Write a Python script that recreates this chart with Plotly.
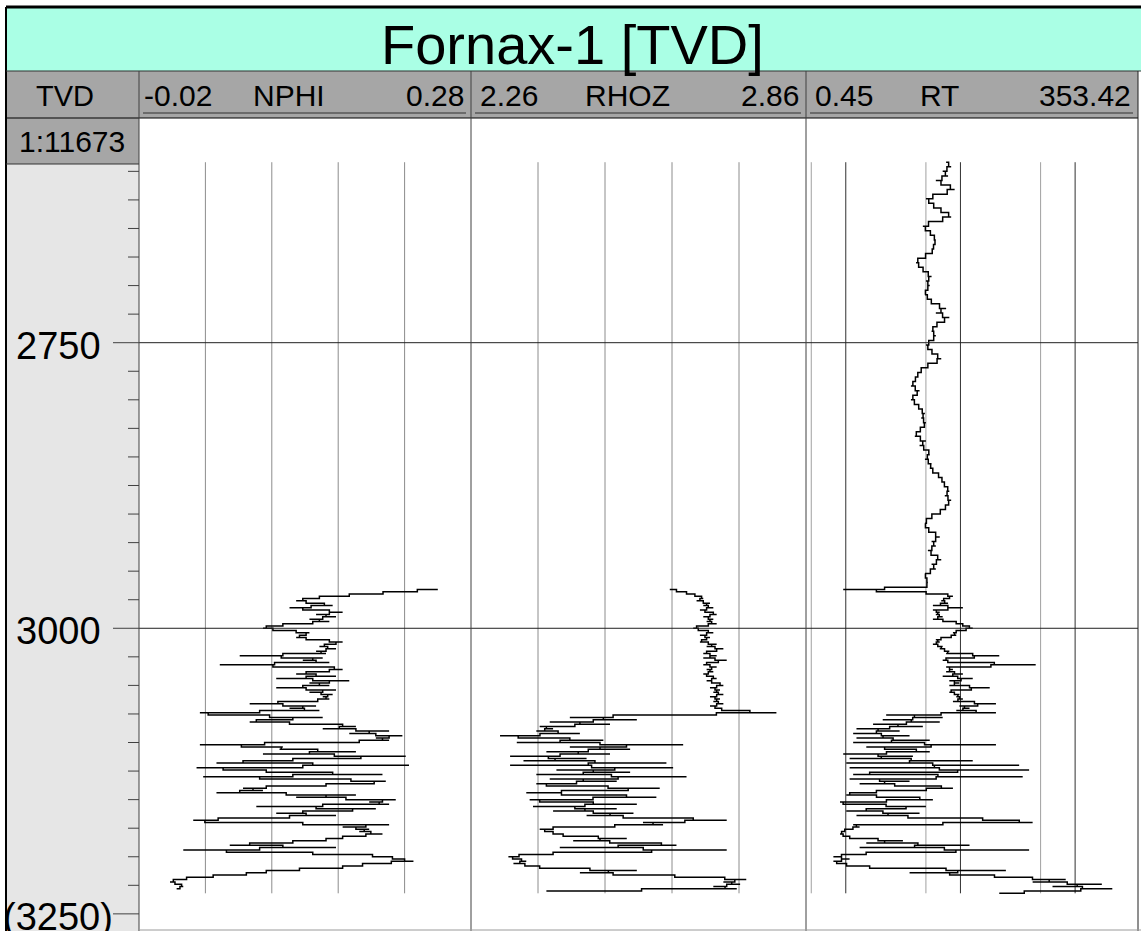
import numpy as np
import plotly.graph_objects as go

# ---------------- data ----------------
well_title = "Fornax-1 [TVD]"
scale_text = "1:11673"
depth_labels = ["2750", "3000", "(3250)"]
depth_label_values = [2750, 3000, 3250]

# track names and their scale ends
track_names = ["NPHI", "RHOZ", "RT"]
track_left_text = ["-0.02", "2.26", "0.45"]
track_right_text = ["0.28", "2.86", "353.42"]
nphi_range = [-0.02, 0.28]
rhoz_range = [2.26, 2.86]
rt_range = [0.45, 353.42]

# sample depths (m, TVD)
rt_upper_depth = np.arange(2592, 2965, 4)        # 4 m sampling in upper RT section
lower_depth = np.arange(2966, 3233, 2)           # 2 m sampling below 2966 m

nphi = [
    0.250, 0.213, 0.188, 0.152, 0.134, 0.122, 0.140, 0.155, 0.116, 0.140,
    0.164, 0.140, 0.158, 0.134, 0.152, 0.122, 0.098, 0.092, 0.110, 0.134,
    0.128, 0.122, 0.140, 0.164, 0.152, 0.143, 0.158, 0.140, 0.149, 0.071,
    0.146, 0.128, 0.152, 0.053, 0.149, 0.164, 0.140, 0.122, 0.158, 0.104,
    0.170, 0.134, 0.152, 0.104, 0.158, 0.134, 0.155, 0.146, 0.152, 0.131,
    0.080, 0.140, 0.116, 0.143, 0.035, 0.050, 0.146, 0.092, 0.080, 0.152,
    0.176, 0.146, 0.206, 0.170, 0.218, 0.194, 0.206, 0.152, 0.035, 0.110,
    0.107, 0.176, 0.092, 0.221, 0.140, 0.098, 0.050, 0.224, 0.032, 0.080,
    0.110, 0.200, 0.038, 0.140, 0.203, 0.182, 0.116, 0.074, 0.092, 0.050,
    0.176, 0.122, 0.212, 0.188, 0.206, 0.086, 0.194, 0.152, 0.104, 0.158,
    0.074, 0.029, 0.050, 0.206, 0.164, 0.188, 0.179, 0.200, 0.170, 0.158,
    0.140, 0.098, 0.062, 0.158, 0.020, 0.098, 0.176, 0.206, 0.212, 0.228,
    0.188, 0.176, 0.152, 0.098, 0.092, 0.062, 0.032, 0.014, 0.008, 0.017,
    0.020, 0.014,
]

rhoz = [
    2.616, 2.640, 2.652, 2.670, 2.676, 2.664, 2.688, 2.676, 2.694, 2.670,
    2.688, 2.700, 2.676, 2.694, 2.682, 2.700, 2.670, 2.658, 2.676, 2.694,
    2.670, 2.688, 2.676, 2.670, 2.700, 2.682, 2.712, 2.688, 2.676, 2.700,
    2.676, 2.718, 2.688, 2.676, 2.700, 2.682, 2.694, 2.676, 2.688, 2.700,
    2.682, 2.700, 2.712, 2.688, 2.706, 2.694, 2.712, 2.688, 2.706, 2.694,
    2.712, 2.688, 2.706, 2.712, 2.807, 2.592, 2.437, 2.557, 2.401, 2.509,
    2.383, 2.407, 2.377, 2.455, 2.312, 2.377, 2.497, 2.342, 2.640, 2.437,
    2.545, 2.395, 2.509, 2.330, 2.467, 2.354, 2.610, 2.330, 2.622, 2.413,
    2.545, 2.377, 2.646, 2.401, 2.521, 2.377, 2.413, 2.598, 2.485, 2.359,
    2.485, 2.592, 2.365, 2.401, 2.557, 2.371, 2.521, 2.407, 2.551, 2.467,
    2.598, 2.718, 2.568, 2.604, 2.431, 2.383, 2.401, 2.413, 2.437, 2.539,
    2.443, 2.574, 2.628, 2.419, 2.718, 2.449, 2.365, 2.327, 2.342, 2.359,
    2.336, 2.377, 2.389, 2.557, 2.455, 2.574, 2.676, 2.753, 2.712, 2.742,
    2.694, 2.736, 2.395,
]

rt_upper = [
    7.5, 8.3, 7.0, 7.8, 6.1, 7.5, 8.9, 6.6, 5.0, 5.6,
    6.1, 7.5, 8.3, 5.9, 4.7, 5.2, 5.75, 6.1, 5.9, 5.75,
    5.6, 4.4, 4.1, 4.55, 4.9, 5.6, 5.0, 5.4, 5.0, 4.9,
    5.4, 5.75, 7.5, 6.1, 8.0, 6.6, 5.9, 5.6, 6.1, 5.6,
    5.0, 5.4, 5.9, 6.8, 5.75, 4.7, 4.4, 4.1, 4.0, 3.7,
    4.4, 4.0, 3.7, 4.25, 4.4, 4.9, 4.55, 5.0, 4.7, 4.25,
    4.0, 5.0, 4.4, 5.2, 5.4, 4.9, 5.6, 5.4, 6.1, 6.8,
    7.0, 7.5, 8.0, 7.3, 8.3, 7.5, 7.3, 6.1, 5.2, 4.9,
    5.0, 5.6, 6.6, 5.6, 6.1, 5.2, 5.9, 6.8, 5.6, 6.1,
    4.9, 5.0, 5.2, 5.0,
]

rt_lower = [
    0.95, 3.6, 7.0, 8.6, 7.5, 6.8, 7.8, 5.75, 10.5, 5.75,
    6.6, 6.1, 7.0, 5.75, 8.6, 9.8, 11.2, 12.8, 9.8, 8.6,
    9.2, 7.5, 6.1, 6.6, 5.75, 7.0, 6.6, 8.0, 7.5, 21.8,
    8.0, 7.0, 8.6, 45.3, 7.5, 8.6, 7.5, 10.5, 7.0, 12.8,
    8.0, 9.8, 8.0, 18.0, 8.6, 8.0, 9.8, 9.2, 10.5, 8.6,
    20.4, 9.8, 12.0, 9.2, 20.4, 2.25, 7.0, 2.1, 6.6, 1.73,
    4.7, 1.24, 2.95, 1.16, 3.6, 1.24, 5.4, 1.16, 20.4, 1.51,
    3.15, 5.4, 0.95, 3.85, 1.08, 12.8, 1.01, 32.5, 1.08, 39.7,
    2.25, 1.16, 34.9, 1.08, 3.6, 1.32, 5.4, 8.6, 2.95, 1.16,
    1.01, 3.4, 5.75, 0.89, 1.01, 5.0, 2.25, 1.01, 4.4, 1.24,
    9.8, 24.9, 42.6, 1.16, 1.32, 1.01, 0.95, 0.89, 1.01, 1.16,
    3.15, 1.51, 12.0, 1.32, 39.7, 2.1, 1.08, 0.78, 1.08, 0.78,
    0.89, 1.16, 2.25, 24.9, 3.6, 18.0, 21.8, 82.8, 42.6, 171,
    63.5, 211, 59.5, 21.8,
]

nphi_grid = [0.04, 0.10, 0.16, 0.22]
rhoz_grid = [2.38, 2.50, 2.62, 2.74]
rt_grid_major = [1, 10, 100]
rt_grid_minor = [0.5, 5, 50]

# ---------------- layout helpers ----------------
W, H = 1141, 931
FONT = "Liberation Sans, Arial, sans-serif"


def px(x):
    return x / W


def py(y):
    return 1 - y / H


# track edges (pixels)
T_LEFT = [139, 471, 806]
T_RIGHT = [471, 806, 1138]
DEPTH_L, DEPTH_R = 6, 139
HEAD_TOP, HEAD_BOT, SCALE_BOT = 71, 118, 164

nphi_depth = lower_depth[: len(nphi)]
rhoz_depth = lower_depth[: len(rhoz)]
rt_depth = np.concatenate([rt_upper_depth, lower_depth[: len(rt_lower)]])
rt_vals = list(rt_upper) + list(rt_lower)

grid_top = float(min(rt_depth))
grid_bot = float(max(rt_depth))

fig = go.Figure()
line_style = dict(color="black", width=1.5, shape="hvh")
fig.add_trace(go.Scatter(x=nphi, y=nphi_depth, xaxis="x", yaxis="y", mode="lines",
                         line=line_style, name="NPHI", hoverinfo="skip"))
fig.add_trace(go.Scatter(x=rhoz, y=rhoz_depth, xaxis="x2", yaxis="y", mode="lines",
                         line=line_style, name="RHOZ", hoverinfo="skip"))
fig.add_trace(go.Scatter(x=rt_vals, y=rt_depth, xaxis="x3", yaxis="y", mode="lines",
                         line=line_style, name="RT", hoverinfo="skip"))

shapes = []


def rect(x0, y0, x1, y1, fill, layer="below"):
    shapes.append(dict(type="rect", xref="paper", yref="paper",
                       x0=px(x0), x1=px(x1), y0=py(y0), y1=py(y1),
                       fillcolor=fill, line=dict(width=0), layer=layer))


def pline(x0, y0, x1, y1, color, width=1, layer="above"):
    shapes.append(dict(type="line", xref="paper", yref="paper",
                       x0=px(x0), x1=px(x1), y0=py(y0), y1=py(y1),
                       line=dict(color=color, width=width), layer=layer))


# backgrounds
rect(DEPTH_L, 7, W, HEAD_TOP, "#AAFFE5")
rect(DEPTH_L, HEAD_TOP, T_RIGHT[2], HEAD_BOT, "#A6A6A6")
rect(DEPTH_L, HEAD_BOT, DEPTH_R, SCALE_BOT, "#A6A6A6")
rect(DEPTH_L, SCALE_BOT, DEPTH_R, H, "#E6E6E6")

# vertical gridlines in tracks (shapes on a log axis take data values here)
for v in nphi_grid:
    shapes.append(dict(type="line", xref="x", yref="y", x0=v, x1=v, y0=grid_top, y1=grid_bot,
                       line=dict(color="#8C8C8C", width=1), layer="below"))
for v in rhoz_grid:
    shapes.append(dict(type="line", xref="x2", yref="y", x0=v, x1=v, y0=grid_top, y1=grid_bot,
                       line=dict(color="#8C8C8C", width=1), layer="below"))
for v in rt_grid_minor:
    shapes.append(dict(type="line", xref="x3", yref="y", x0=v, x1=v, y0=grid_top, y1=grid_bot,
                       line=dict(color="#A0A0A0", width=1), layer="below"))
for v in rt_grid_major:
    shapes.append(dict(type="line", xref="x3", yref="y", x0=v, x1=v, y0=grid_top, y1=grid_bot,
                       line=dict(color="#303030", width=1), layer="below"))

# depth ticks
for d in range(2600, 3251, 25):
    major = d % 250 == 0
    shapes.append(dict(type="line", xref="paper", yref="y",
                       x0=px(113 if major else 128), x1=px(DEPTH_R), y0=d, y1=d,
                       line=dict(color="#404040", width=1), layer="above"))
# horizontal reference lines across tracks
for d in depth_label_values[:2]:
    shapes.append(dict(type="line", xref="paper", yref="y",
                       x0=px(DEPTH_R), x1=px(T_RIGHT[2]), y0=d, y1=d,
                       line=dict(color="#202020", width=1), layer="above"))

# frame lines
pline(DEPTH_L, 7, W, 7, "black", 3)
pline(DEPTH_L, 7, DEPTH_L, H, "black", 2)
pline(DEPTH_L, HEAD_TOP, W, HEAD_TOP, "#333333", 1)
pline(DEPTH_L, HEAD_BOT, T_RIGHT[2], HEAD_BOT, "black", 1)
pline(DEPTH_L, SCALE_BOT, DEPTH_R, SCALE_BOT, "#333333", 1)
for xs in [DEPTH_R, T_LEFT[1], T_LEFT[2]]:
    pline(xs, HEAD_TOP, xs, H, "#404040", 1)
pline(T_RIGHT[2], HEAD_TOP, T_RIGHT[2], H, "#202020", 1)
pline(DEPTH_R, H - 1, W, H - 1, "#9A9A9A", 1)
# header underlines
for l, r in zip(T_LEFT, T_RIGHT):
    pline(l + 4, 113, r - 5, 113, "#303030", 1)

annotations = []


def text(x, y, s, size, xanchor="center", yref="paper", yshift=0):
    annotations.append(dict(x=px(x), y=(py(y) if yref == "paper" else y), xref="paper", yref=yref,
                            text=s, showarrow=False, xanchor=xanchor, yanchor="middle",
                            yshift=yshift, font=dict(family=FONT, size=size, color="black")))


text(572, 44, well_title, 56)
text(65, 96, "TVD", 29)
text(72, 141, scale_text, 30)
for i in range(3):
    text(T_LEFT[i] + (3 if i == 0 else 7), 96, track_left_text[i], 30, xanchor="left")
    text(T_LEFT[i] + 112, 96, track_names[i], 30, xanchor="left")
    text(T_RIGHT[i] - 5, 96, track_right_text[i], 30, xanchor="right")
for d, s in zip(depth_label_values, depth_labels):
    text(58, d, s, 38, yref="y", yshift=-3)

fig.update_layout(
    width=W, height=H,
    margin=dict(l=0, r=0, t=0, b=0),
    paper_bgcolor="white", plot_bgcolor="white",
    showlegend=False,
    xaxis=dict(domain=[px(T_LEFT[0]), px(T_RIGHT[0])], range=nphi_range, visible=False),
    xaxis2=dict(domain=[px(T_LEFT[1]), px(T_RIGHT[1])], range=rhoz_range, visible=False, anchor="y"),
    xaxis3=dict(domain=[px(T_LEFT[2]), px(T_RIGHT[2])], type="log",
                range=[float(np.log10(rt_range[0])), float(np.log10(rt_range[1]))],
                visible=False, anchor="y"),
    yaxis=dict(domain=[0, py(HEAD_BOT)], range=[3265.0, 2553.3], visible=False),
    shapes=shapes,
    annotations=annotations,
)

fig.write_html("out.html", config={"displayModeBar": False},
               post_script="document.body.style.margin='0px';document.body.style.overflow='hidden';")
